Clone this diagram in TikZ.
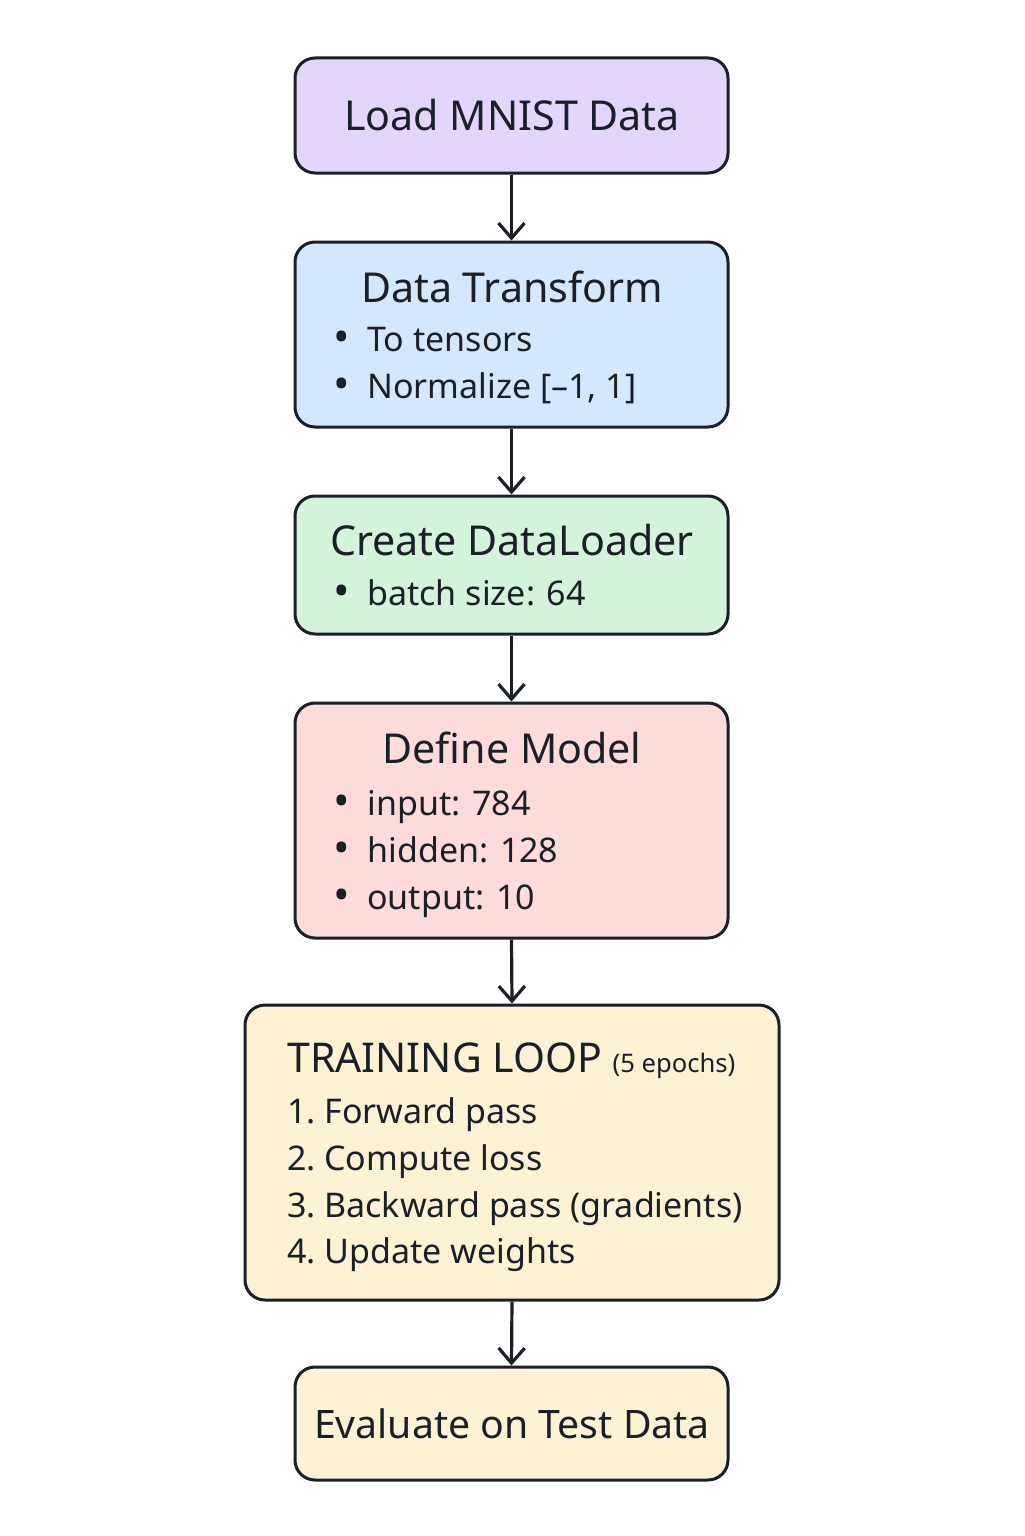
\documentclass[tikz,border=0pt]{standalone}
\usepackage{fontspec}
\setmainfont{Noto Sans}
\usetikzlibrary{arrows.meta}
\definecolor{edge}{HTML}{1B1F27}
\definecolor{cA}{HTML}{E3D6FA}
\definecolor{cB}{HTML}{D3E8FC}
\definecolor{cC}{HTML}{D4F3DB}
\definecolor{cD}{HTML}{FCDBDB}
\definecolor{cE}{HTML}{FDF2D4}
\tikzset{
  box/.style={draw=edge, line width=1.5pt, rounded corners=10pt, inner sep=0pt},
  ttl/.style={anchor=base, inner sep=0pt, font=\fontsize{20.6}{25}\selectfont, text=edge},
  itm/.style={anchor=base west, inner sep=0pt, font=\fontsize{17}{20}\selectfont, text=edge},
  loopitm/.style={itm, font=\fontsize{17}{20}\selectfont},
  bul/.style={anchor=base, inner sep=0pt, font=\fontsize{22}{20}\selectfont, text=edge},
  conn/.style={draw=edge, line width=1.6pt, -{Straight Barb[length=7.5pt,width=13pt,line width=1.6pt]}}
}
\begin{document}
\begin{tikzpicture}[x=0.5pt,y=-0.5pt]
\useasboundingbox[fill=white] (0,0) rectangle (1024,1536);
% boxes
\node[box, fill=cA, minimum width=216.5pt, minimum height=57.5pt] (b1) at (511.5,115.5) {};
\node[box, fill=cB, minimum width=216.5pt, minimum height=92.5pt] (b2) at (511.5,334.5) {};
\node[box, fill=cC, minimum width=216.5pt, minimum height=69pt] (b3) at (511.5,565) {};
\node[box, fill=cD, minimum width=216.5pt, minimum height=117.5pt] (b4) at (511.5,820.5) {};
\node[box, fill=cE, minimum width=267pt, minimum height=147.5pt] (b5) at (512,1152.5) {};
\node[box, fill=cE, minimum width=216.5pt, minimum height=56.5pt] (b6) at (511.5,1423.5) {};
% texts
\node[ttl] (t1) at (512,131) {Load MNIST Data};
\node[ttl] (t2) at (512,302) {Data Transform};
\node[bul] (u21) at (342,352) {•};
\node[itm] (i21) at (367,351) {To tensors};
\node[bul] (u22) at (342,399) {•};
\node[itm] (i22) at (367,398) {Normalize [–1, 1]};
\node[ttl] (t3) at (512,555) {Create DataLoader};
\node[bul] (u31) at (342,606) {•};
\node[itm] (i31) at (367,605) {batch size: 64};
\node[ttl] (t4) at (512,763) {Define Model};
\node[bul] (u41) at (342,816) {•};
\node[itm] (i41) at (367,815) {input: 784};
\node[bul] (u42) at (342,863) {•};
\node[itm] (i42) at (367,862) {hidden: 128};
\node[bul] (u43) at (342,910) {•};
\node[itm] (i43) at (367,909) {output: 10};
\node[itm, font=\fontsize{20.5}{25}\selectfont] (t5) at (287,1072) {TRAINING LOOP \fontsize{12.8}{15}\selectfont(5 epochs)};
\node[loopitm] (i51) at (287,1123) {1.\hspace{0.25em}Forward pass};
\node[loopitm] (i52) at (287,1170) {2.\hspace{0.25em}Compute loss};
\node[loopitm] (i53) at (287,1217) {3.\hspace{0.25em}Backward pass (gradients)};
\node[loopitm] (i54) at (287,1263) {4.\hspace{0.25em}Update weights};
\node[ttl, font=\fontsize{19.6}{24}\selectfont] (t6) at (512,1438) {Evaluate on Test Data};
% connectors
\draw[conn] (b1.south) -- (b2.north);
\draw[conn] (b2.south) -- (b3.north);
\draw[conn] (b3.south) -- (b4.north);
\draw[conn] (b4.south) -- (b5.north);
\draw[conn] (b5.south) -- (b6.north);
\end{tikzpicture}
\end{document}
